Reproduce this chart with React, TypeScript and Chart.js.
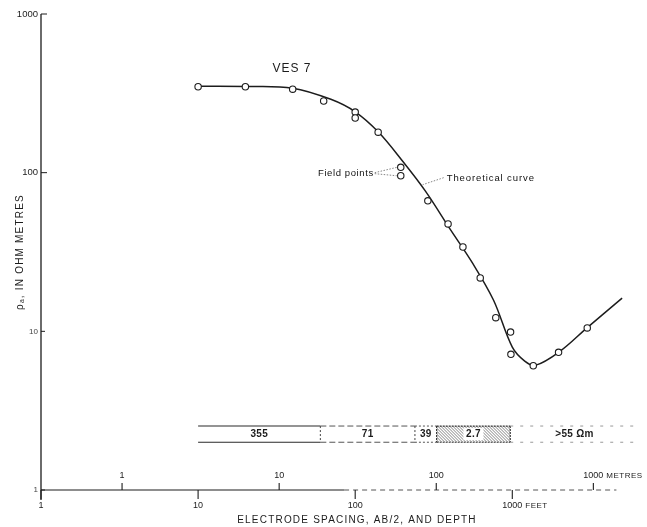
import React, { useEffect, useRef } from "react";
import { Chart, registerables } from "chart.js";

Chart.register(...registerables);

// ---- data (feet, ohm-metres) ----
const fieldSpacingFt = [10, 20, 40, 63, 100, 100, 140, 195, 195, 290, 390, 485, 625, 785, 975, 980, 1360, 1970, 3000];
const fieldRho = [348, 348, 336, 283, 241, 221, 180, 108, 95.6, 66.5, 47.5, 34, 21.7, 12.2, 9.9, 7.16, 6.07, 7.37, 10.5];

const curveSpacingFt = [10, 20, 40, 70, 100, 140, 200, 280, 400, 560, 760, 1000, 1200, 1400, 2000, 3000, 5000];
const curveRho = [350, 349, 341, 290, 242, 181, 118.5, 76.5, 44.4, 26.8, 15.7, 7.95, 6.49, 6.1, 7.45, 10.55, 16.2];

const yTickValues = [1000, 100, 10, 1];
const yTickLabels = ["1000", "100", "10", "1"];
const feetTickValues = [1, 10, 100, 1000];
const feetTickLabels = ["1", "10", "100", "1000"];
const metreTickValues = [1, 10, 100, 1000];
const metreTickLabels = ["1", "10", "100", "1000"];

// geo-electric layers: boundaries in feet and resistivities
const layerBoundsFt = [10, 60, 240, 330, 970, 6400];
const layerLabels = ["355", "71", "39", "2.7", ">55 Ωm"];

const X_MIN = 1;
const X_MAX = 6500;
const Y_MIN = 1;
const Y_MAX = 1000;
const FT_PER_M = 1 / 0.3048;

const INK = "#1c1c1c";
const FONT = '"Liberation Sans", Arial, sans-serif';

function txt(
  ctx: CanvasRenderingContext2D,
  s: string,
  x: number,
  y: number,
  size: number,
  align: CanvasTextAlign = "center",
  weight = "normal",
  spacing = 0,
  color = INK
) {
  ctx.save();
  ctx.font = `${weight} ${size}px ${FONT}`;
  ctx.fillStyle = color;
  ctx.textAlign = align;
  ctx.textBaseline = "middle";
  (ctx as any).letterSpacing = spacing + "px";
  ctx.fillText(s, x, y);
  ctx.restore();
}

function seg(
  ctx: CanvasRenderingContext2D,
  x1: number,
  y1: number,
  x2: number,
  y2: number,
  width = 1,
  color = INK,
  dash: number[] = []
) {
  ctx.save();
  ctx.strokeStyle = color;
  ctx.lineWidth = width;
  ctx.setLineDash(dash);
  ctx.beginPath();
  ctx.moveTo(x1, y1);
  ctx.lineTo(x2, y2);
  ctx.stroke();
  ctx.restore();
}

const vesPlugin = {
  id: "vesDecor",
  beforeDatasetsDraw(chart: any) {
    const ctx: CanvasRenderingContext2D = chart.ctx;
    const X = (v: number) => chart.scales.x.getPixelForValue(v);
    const Y = (v: number) => chart.scales.y.getPixelForValue(v);
    const x0 = X(X_MIN);
    const yb = Y(Y_MIN);
    const yt = Y(Y_MAX);

    // y axis
    seg(ctx, x0, yt, x0, yb + 10, 1.3);
    yTickValues.forEach((v, i) => {
      const py = Y(v);
      const small = v < 100;
      seg(ctx, x0, py, x0 + (small ? 4 : 6), py, 1);
      txt(ctx, yTickLabels[i], x0 - 3, py, small ? 8 : 9.5, "right", "normal", 0, small ? "#444" : INK);
    });

    // x axis line
    seg(ctx, x0, yb, X(85), yb, 1.2);
    seg(ctx, X(85), yb, X(4600), yb, 1, "#555", [5, 4]);

    // feet ticks (below)
    feetTickValues.forEach((v, i) => {
      const px = X(v);
      seg(ctx, px, yb, px, yb + 9, 1.1);
      txt(ctx, feetTickLabels[i], px, yb + 16, 9);
    });
    txt(ctx, "FEET", X(1000) + 13, yb + 16, 8, "left", "normal", 0.5);

    // metre ticks (above)
    metreTickValues.forEach((v, i) => {
      const px = X(v * FT_PER_M);
      seg(ctx, px, yb, px, yb - 7, 1.1);
      txt(ctx, metreTickLabels[i], px, yb - 14, 9);
    });
    txt(ctx, "METRES", X(1000 * FT_PER_M) + 13, yb - 14, 8, "left", "normal", 0.5);

    // axis titles
    txt(ctx, "ELECTRODE SPACING, AB/2, AND DEPTH", 357, yb + 30, 10, "center", "normal", 1.2);
    ctx.save();
    ctx.translate(20, 252);
    ctx.rotate(-Math.PI / 2);
    txt(ctx, "ρₐ, IN OHM METRES", 0, 0, 10, "center", "normal", 1.2);
    ctx.restore();

    // layer bar
    const bt = Y(2.53);
    const bb = Y(2.0);
    const bm = (bt + bb) / 2;
    const B = layerBoundsFt.map((v) => X(v));
    // layer 1
    seg(ctx, B[0], bt, B[1], bt, 1.1, "#2a2a2a");
    seg(ctx, B[0], bb, B[1], bb, 1.1, "#2a2a2a");
    // layer 2
    seg(ctx, B[1], bt, B[2], bt, 1, "#555", [6, 3]);
    seg(ctx, B[1], bb, B[2], bb, 1, "#555", [6, 3]);
    // layer 3
    seg(ctx, B[2], bt, B[3], bt, 1, "#555", [2, 2]);
    seg(ctx, B[2], bb, B[3], bb, 1, "#555", [2, 2]);
    // dividers
    seg(ctx, B[1], bt, B[1], bb, 1, "#444", [2, 2]);
    seg(ctx, B[2], bt, B[2], bb, 1, "#444", [2, 2]);
    // hatched layer 4
    ctx.save();
    ctx.beginPath();
    ctx.rect(B[3], bt, B[4] - B[3], bb - bt);
    ctx.clip();
    ctx.strokeStyle = "#666";
    ctx.lineWidth = 0.8;
    for (let x = B[3] - 20; x < B[4] + 20; x += 3) {
      ctx.beginPath();
      ctx.moveTo(x, bt);
      ctx.lineTo(x + (bb - bt), bb);
      ctx.stroke();
    }
    ctx.restore();
    ctx.save();
    ctx.fillStyle = "#fff";
    ctx.fillRect((B[3] + B[4]) / 2 - 10, bm - 6, 20, 12);
    ctx.restore();
    seg(ctx, B[3], bt, B[4], bt, 1.2, "#333", [2, 1]);
    seg(ctx, B[3], bb, B[4], bb, 1.2, "#333", [2, 1]);
    seg(ctx, B[3], bt, B[3], bb, 1.2, "#333", [2, 1]);
    seg(ctx, B[4], bt, B[4], bb, 1.2, "#333", [2, 1]);
    // layer 5
    seg(ctx, B[4], bt, B[5], bt, 1, "#999", [3, 7]);
    seg(ctx, B[4], bb, B[5], bb, 1, "#999", [3, 7]);
    for (let i = 0; i < layerLabels.length; i++) {
      const cx = (B[i] + B[i + 1]) / 2;
      txt(ctx, layerLabels[i], cx, bm, 10, "center", "bold", 0.3);
    }
  },
  afterDatasetsDraw(chart: any) {
    const ctx: CanvasRenderingContext2D = chart.ctx;
    const X = (v: number) => chart.scales.x.getPixelForValue(v);
    const Y = (v: number) => chart.scales.y.getPixelForValue(v);

    txt(ctx, "VES 7", (X(20) + X(40)) / 2 + 23, Y(450), 12, "center", "normal", 1);

    // field points label + leaders to the two points at 195 ft
    const fx = X(195);
    txt(ctx, "Field points", fx - 27, Y(100) + 1, 9.5, "right", "normal", 0.6, "#111");
    seg(ctx, fx - 26, Y(100), fx - 4, Y(108), 0.8, "#666", [1.5, 1.5]);
    seg(ctx, fx - 26, Y(100) + 1, fx - 4, Y(95.6), 0.8, "#666", [1.5, 1.5]);

    // theoretical curve label + leader
    const tx = X(265);
    const ty = Y(82.8);
    txt(ctx, "Theoretical curve", tx + 25, ty - 7, 9.5, "left", "normal", 0.9, "#111");
    seg(ctx, tx + 22, ty - 8, tx + 1, ty - 1, 0.8, "#666", [1.5, 1.5]);
  },
};

export default function App() {
  const ref = useRef<HTMLCanvasElement | null>(null);

  useEffect(() => {
    if (!ref.current) return;
    const chart = new Chart(ref.current, {
      type: "scatter",
      data: {
        datasets: [
          {
            label: "Field points",
            data: fieldSpacingFt.map((x, i) => ({ x, y: fieldRho[i] })),
            showLine: false,
            pointRadius: 3.2,
            pointBorderWidth: 1.1,
            pointBorderColor: INK,
            pointBackgroundColor: "#ffffff",
            order: 0,
          },
          {
            label: "Theoretical curve",
            data: curveSpacingFt.map((x, i) => ({ x, y: curveRho[i] })),
            showLine: true,
            borderColor: INK,
            borderWidth: 1.5,
            pointRadius: 0,
            tension: 0.35,
            order: 1,
          },
        ],
      },
      options: {
        responsive: false,
        animation: false,
        devicePixelRatio: 1,
        layout: { padding: { left: 41, right: 7, top: 14, bottom: 37 }, autoPadding: false },
        plugins: { legend: { display: false }, tooltip: { enabled: false } },
        scales: {
          x: { type: "logarithmic", min: X_MIN, max: X_MAX, display: false },
          y: { type: "logarithmic", min: Y_MIN, max: Y_MAX, display: false },
        },
      },
      plugins: [vesPlugin],
    } as any);
    return () => chart.destroy();
  }, []);

  return (
    <div style={{ position: "absolute", left: 0, top: 0, width: 647, height: 527, background: "#fff" }}>
      <canvas ref={ref} width={647} height={527} style={{ display: "block" }} />
    </div>
  );
}
